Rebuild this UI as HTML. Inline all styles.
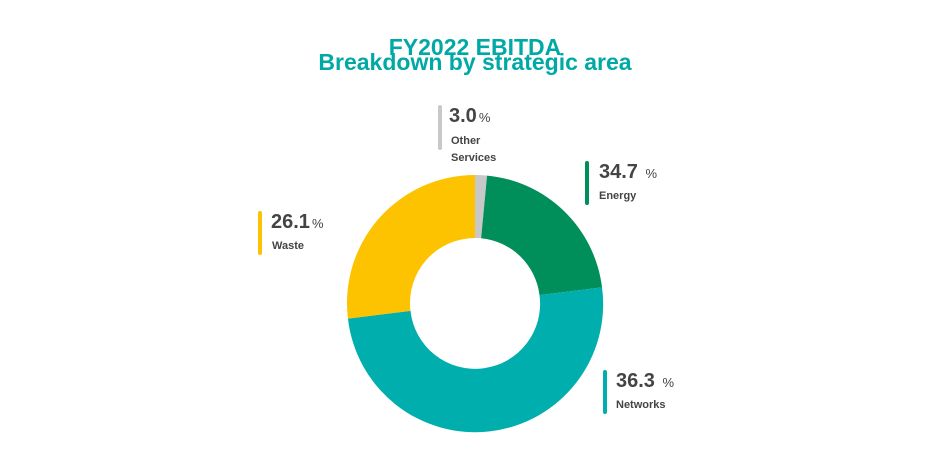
<!DOCTYPE html>
<html><head><style>
body{margin:0;width:950px;height:470px;background:#fff;position:relative;font-family:"Liberation Sans",sans-serif;overflow:hidden}
.t{position:absolute;left:0;width:950px;text-align:center;color:#00a9a5;font-size:23px;font-weight:bold;line-height:1}
.bar{position:absolute;width:4px;border-radius:2px}
.n{position:absolute;color:#444;font-weight:bold;font-size:20px;line-height:1}
.n small{font-size:13px;font-weight:normal;margin-left:2px}
.l{position:absolute;color:#444;font-size:11px;font-weight:bold;line-height:17px}
</style></head><body>
<div class="t" style="top:36px">FY2022 EBITDA</div>
<div class="t" style="top:51px">Breakdown by strategic area</div>
<svg width="950" height="470" style="position:absolute;left:0;top:0">
<path d="M475,175 A128,128 0 0 1 487.05,175.57 L481.12,238.29 A65,65 0 0 0 475,238Z" fill="#c8c8c8"/>
<path d="M487.05,175.57 A128,128 0 0 1 602.04,287.4 L539.51,295.08 A65,65 0 0 0 481.12,238.29Z" fill="#008f5a"/>
<path d="M602.04,287.4 A128,128 0 1 1 347.96,318.6 L410.49,310.92 A65,65 0 1 0 539.51,295.08Z" fill="#00aead"/>
<path d="M347.96,318.6 A128,128 0 0 1 475,175 L475,238 A65,65 0 0 0 410.49,310.92Z" fill="#fdc300"/>
</svg>
<div class="bar" style="left:438px;top:105px;height:45px;background:#c8c8c8"></div>
<div class="n" style="left:449px;top:106px">3.0<small>%</small></div>
<div class="l" style="left:451px;top:133px">Other<br>Services</div>
<div class="bar" style="left:585px;top:161px;height:44px;background:#008f5a"></div>
<div class="n" style="left:599px;top:162px">34.7 <small>%</small></div>
<div class="l" style="left:599px;top:188px">Energy</div>
<div class="bar" style="left:258px;top:211px;height:44px;background:#fdc300"></div>
<div class="n" style="left:271px;top:212px">26.1<small>%</small></div>
<div class="l" style="left:272px;top:238px">Waste</div>
<div class="bar" style="left:603px;top:370px;height:44px;background:#00aead"></div>
<div class="n" style="left:616px;top:371px">36.3 <small>%</small></div>
<div class="l" style="left:616px;top:397px">Networks</div>
</body></html>
